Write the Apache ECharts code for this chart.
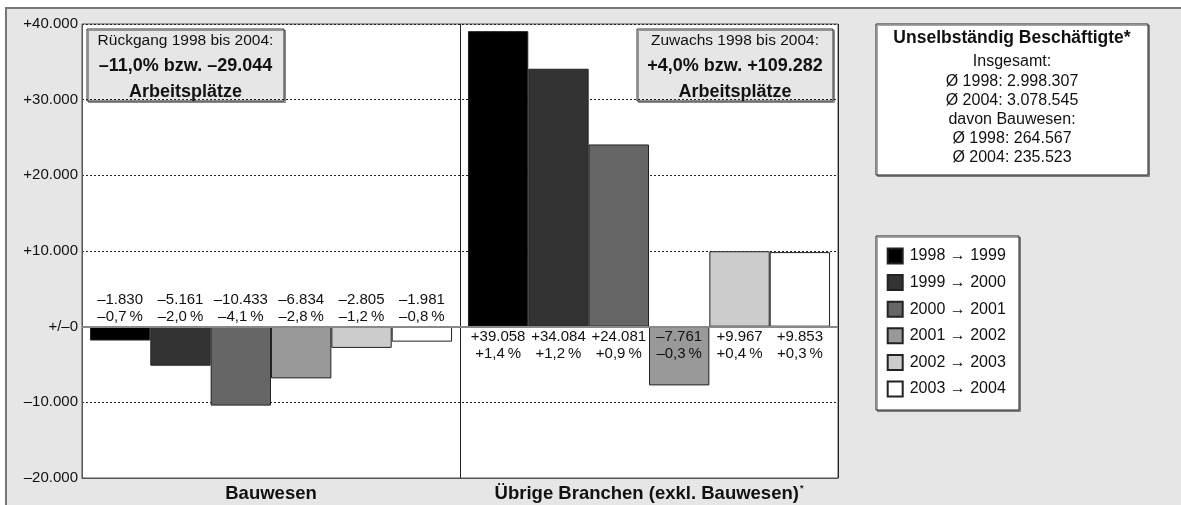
<!DOCTYPE html>
<html>
<head>
<meta charset="utf-8">
<script src="https://cdn.jsdelivr.net/npm/echarts@6/dist/echarts.min.js"></script>
<style>
  html, body { margin: 0; padding: 0; background: #fff; }
  #main { width: 1181px; height: 505px; }
</style>
</head>
<body>
<div id="main"></div>
<script>
// Veränderung unselbständig Beschäftigte gegenüber Vorjahr
const categories = ['Bauwesen', 'Übrige Branchen (exkl. Bauwesen)']
const periods = ['1998 \u2192 1999', '1999 \u2192 2000', '2000 \u2192 2001', '2001 \u2192 2002', '2002 \u2192 2003', '2003 \u2192 2004']
const bauChange = [-1830, -5161, -10433, -6834, -2805, -1981]
const bauPct = [-0.7, -2.0, -4.1, -2.8, -1.2, -0.8]
const otherChange = [39058, 34084, 24081, -7761, 9967, 9853]
const otherPct = [1.4, 1.2, 0.9, -0.3, 0.4, 0.3]
const barColors = ['#000000', '#333333', '#666666', '#999999', '#cccccc', '#ffffff']
const yTicks = { min: -20000, max: 40000, interval: 10000 }

const leftNote = ['Rückgang 1998 bis 2004:', '–11,0% bzw. –29.044', 'Arbeitsplätze']
const rightNote = ['Zuwachs 1998 bis 2004:', '+4,0% bzw. +109.282', 'Arbeitsplätze']
const infoTitle = 'Unselbständig Beschäftigte*'
const infoLines = ['Insgesamt:', 'Ø 1998: 2.998.307', 'Ø 2004: 3.078.545', 'davon Bauwesen:', 'Ø 1998: 264.567', 'Ø 2004: 235.523']

const FONT = '"Liberation Sans", Arial, sans-serif'

const fmtNum = (v) => {
  const s = Math.abs(v).toString().replace(/\B(?=(\d{3})+(?!\d))/g, '.')
  return (v < 0 ? '–' : '+') + s
}
const fmtPct = (v) => (v < 0 ? '–' : '+') + Math.abs(v).toFixed(1).replace('.', ',') + '\u2009%'

const labelPos = (v, catIdx) => {
  if (catIdx === 0) return 'top'
  return v >= 0 ? 'bottom' : 'insideTop'
}

const series = periods.map((name, i) => {
  const vals = [bauChange[i], otherChange[i]]
  const pcts = [bauPct[i], otherPct[i]]
  const s = {
    name: name,
    type: 'bar',
    barGap: '0%',
    barCategoryGap: '4.2%',
    itemStyle: {
      color: barColors[i],
      borderColor: '#222',
      borderWidth: 1
    },
    data: vals.map((v, c) => ({
      value: v,
      label: {
        show: true,
        position: labelPos(v, c),
        distance: 2,
        formatter: fmtNum(v) + '\n' + fmtPct(pcts[c]),
        color: '#111',
        fontSize: 15,
        lineHeight: 16.5,
        fontFamily: FONT
      }
    }))
  }
  if (i === 0) {
    s.markLine = {
      silent: true,
      symbol: 'none',
      label: { show: false },
      lineStyle: { color: '#888', width: 2, type: 'solid' },
      data: [{ yAxis: 0 }]
    }
  }
  return s
})

// Textbox als graphic-Gruppe
const noteBox = (x, y, w, h, lines, fill) => ({
  type: 'group',
  z: 20,
  children: [
    {
      type: 'rect',
      shape: { x: x, y: y, width: w, height: h },
      style: { fill: fill, stroke: '#333', lineWidth: 1, shadowColor: 'rgba(0,0,0,0.35)', shadowOffsetX: 1.5, shadowOffsetY: 1.5 }
    },
    ...lines.map((t, k) => ({
      type: 'text',
      x: x + w / 2,
      y: y + 11.5 + k * 26,
      style: {
        text: t,
        align: 'center',
        verticalAlign: 'middle',
        font: (k === 0 ? 'normal 15.5px ' : 'bold 18px ') + FONT,
        fill: '#111'
      }
    }))
  ]
})

const chart = echarts.init(document.getElementById('main'))
chart.setOption({
  animation: false,
  textStyle: { fontFamily: FONT },
  grid: {
    left: 82,
    top: 24,
    right: 343,
    bottom: 27,
    show: true,
    backgroundColor: '#fff',
    borderColor: '#555',
    borderWidth: 1
  },
  legend: {
    orient: 'vertical',
    left: 886.7,
    top: 247.5,
    padding: 0,
    itemWidth: 15,
    itemHeight: 15,
    itemGap: 9.6,
    icon: 'rect',
    data: periods,
    textStyle: { fontSize: 16, lineHeight: 15, color: '#111', fontFamily: FONT, padding: [0, 0, 0, 2] }
  },
  xAxis: {
    type: 'category',
    data: categories,
    axisLine: { show: true, onZero: false, lineStyle: { color: '#555', width: 1 } },
    axisTick: { show: false },
    splitLine: { show: true, lineStyle: { color: '#222', width: 1 } },
    axisLabel: {
      interval: 0,
      margin: 6,
      color: '#111',
      fontSize: 18.5,
      fontWeight: 'bold',
      fontFamily: FONT,
      formatter: (v, idx) => idx === 1 ? '{b|' + v + '}{s|*}' : '{b|' + v + '}',
      rich: {
        b: { fontSize: 18.5, fontWeight: 'bold', fontFamily: FONT, color: '#111' },
        s: { fontSize: 9, fontWeight: 'bold', fontFamily: FONT, color: '#111', padding: [0, 0, 9, 1] }
      }
    }
  },
  yAxis: {
    type: 'value',
    min: yTicks.min,
    max: yTicks.max,
    interval: yTicks.interval,
    axisLine: { show: true, lineStyle: { color: '#555', width: 1 } },
    axisTick: { show: false },
    splitLine: { show: true, lineStyle: { color: '#222', width: 1, type: [2, 2] } },
    axisLabel: {
      margin: 4,
      color: '#111',
      fontSize: 15,
      fontFamily: FONT,
      formatter: (v) => v === 0 ? '+/–0' : fmtNum(v)
    }
  },
  graphic: [
    {
      type: 'rect',
      z: -100,
      shape: { x: 6, y: 8, width: 1200, height: 520 },
      style: { fill: '#e6e6e6', stroke: '#777', lineWidth: 2 }
    },
    noteBox(87, 29, 197, 72, leftNote, '#e6e6e6'),
    noteBox(637, 29, 196, 72, rightNote, '#e6e6e6'),
    {
      type: 'group',
      z: 20,
      children: [
        {
          type: 'rect',
          shape: { x: 876, y: 24, width: 272, height: 151 },
          style: { fill: '#fff', stroke: '#222', lineWidth: 1, shadowColor: 'rgba(0,0,0,0.35)', shadowOffsetX: 1.5, shadowOffsetY: 1.5 }
        },
        {
          type: 'text',
          x: 1012,
          y: 38.5,
          style: { text: infoTitle, align: 'center', verticalAlign: 'middle', font: 'bold 17.5px ' + FONT, fill: '#111' }
        },
        ...infoLines.map((t, k) => ({
          type: 'text',
          x: 1012,
          y: 62 + k * 19.2,
          style: { text: t, align: 'center', verticalAlign: 'middle', font: 'normal 16px ' + FONT, fill: '#111' }
        }))
      ]
    },
    {
      type: 'rect',
      z: -50,
      shape: { x: 876, y: 236, width: 143, height: 174 },
      style: { fill: '#fff', stroke: '#222', lineWidth: 1, shadowColor: 'rgba(0,0,0,0.35)', shadowOffsetX: 1.5, shadowOffsetY: 1.5 }
    }
  ],
  series: series
})
</script>
</body>
</html>
